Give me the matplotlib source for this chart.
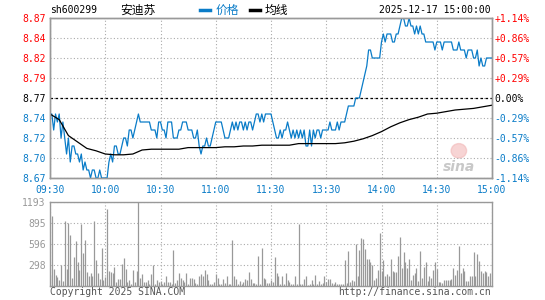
import numpy as np
import matplotlib
matplotlib.use('Agg')
import matplotlib.pyplot as plt
from matplotlib.lines import Line2D
from matplotlib.patches import Ellipse

# intraday data, one value per minute (09:30 .. 11:30 / 13:00 .. 15:00)
price = [
    8.75, 8.75, 8.73, 8.75, 8.74, 8.75, 8.72, 8.74, 8.72, 8.70,
    8.72, 8.69, 8.71, 8.71, 8.70, 8.70, 8.69, 8.70, 8.68, 8.69,
    8.68, 8.68, 8.67, 8.68, 8.68, 8.67, 8.67, 8.68, 8.67, 8.67,
    8.67, 8.67, 8.69, 8.70, 8.69, 8.71, 8.71, 8.70, 8.70, 8.71,
    8.72, 8.72, 8.71, 8.73, 8.73, 8.72, 8.73, 8.74, 8.75, 8.74,
    8.74, 8.74, 8.74, 8.74, 8.74, 8.73, 8.73, 8.73, 8.72, 8.74,
    8.74, 8.73, 8.73, 8.72, 8.74, 8.74, 8.74, 8.72, 8.72, 8.72,
    8.73, 8.73, 8.74, 8.74, 8.74, 8.73, 8.73, 8.73, 8.72, 8.72,
    8.73, 8.71, 8.70, 8.71, 8.71, 8.72, 8.71, 8.71, 8.72, 8.73,
    8.74, 8.74, 8.74, 8.74, 8.73, 8.72, 8.72, 8.72, 8.73, 8.74,
    8.73, 8.74, 8.73, 8.74, 8.74, 8.73, 8.74, 8.73, 8.74, 8.74,
    8.73, 8.74, 8.75, 8.75, 8.74, 8.75, 8.74, 8.75, 8.75, 8.75,
    8.75, 8.74, 8.73, 8.72, 8.72, 8.73, 8.72, 8.73, 8.73, 8.74,
    8.73, 8.72, 8.73, 8.72, 8.73, 8.72, 8.73, 8.72, 8.73, 8.71,
    8.71, 8.73, 8.71, 8.73, 8.72, 8.73, 8.73, 8.72, 8.73, 8.73,
    8.73, 8.73, 8.74, 8.73, 8.73, 8.73, 8.74, 8.73, 8.74, 8.74,
    8.74, 8.75, 8.76, 8.76, 8.76, 8.76, 8.77, 8.77, 8.77, 8.78,
    8.79, 8.80, 8.81, 8.83, 8.83, 8.82, 8.82, 8.82, 8.82, 8.82,
    8.84, 8.85, 8.84, 8.85, 8.85, 8.85, 8.84, 8.84, 8.85, 8.85,
    8.86, 8.87, 8.87, 8.86, 8.86, 8.87, 8.86, 8.86, 8.85, 8.86,
    8.85, 8.86, 8.85, 8.85, 8.84, 8.84, 8.84, 8.84, 8.84, 8.83,
    8.84, 8.84, 8.84, 8.83, 8.84, 8.84, 8.84, 8.84, 8.84, 8.83,
    8.83, 8.83, 8.84, 8.83, 8.83, 8.83, 8.82, 8.83, 8.83, 8.83,
    8.82, 8.82, 8.83, 8.81, 8.82, 8.81, 8.81, 8.82, 8.82, 8.82,
    8.82,
]

volume = [
    150, 1000, 245, 150, 128, 80, 300, 66, 918, 236,
    900, 720, 118, 410, 635, 340, 222, 875, 470, 660,
    200, 137, 185, 142, 930, 365, 185, 100, 540, 80,
    128, 1090, 213, 200, 190, 270, 57, 95, 100, 307,
    400, 236, 57, 80, 33, 222, 57, 213, 1193, 113,
    165, 57, 57, 80, 33, 165, 293, 33, 80, 52,
    71, 33, 57, 137, 52, 52, 33, 505, 43, 80,
    185, 118, 80, 57, 185, 33, 109, 109, 95, 43,
    33, 147, 165, 147, 222, 165, 80, 28, 33, 52,
    165, 118, 33, 33, 104, 47, 137, 24, 33, 660,
    137, 100, 33, 66, 33, 61, 104, 80, 200, 100,
    43, 38, 33, 420, 33, 535, 118, 100, 43, 43,
    80, 57, 407, 185, 147, 33, 137, 24, 180, 80,
    52, 28, 33, 147, 24, 875, 33, 24, 100, 137,
    19, 28, 80, 24, 151, 33, 76, 24, 43, 147,
    57, 104, 104, 47, 33, 52, 33, 24, 24, 24,
    365, 43, 490, 57, 80, 71, 600, 137, 515, 685,
    672, 520, 378, 388, 345, 293, 90, 118, 222, 747,
    208, 365, 147, 175, 147, 378, 213, 203, 200, 420,
    690, 260, 478, 336, 250, 378, 80, 156, 185, 260,
    76, 497, 113, 270, 336, 71, 147, 118, 232, 336,
    246, 57, 57, 47, 80, 80, 80, 80, 100, 260,
    156, 222, 568, 190, 250, 213, 66, 66, 147, 147,
    478, 147, 450, 350, 213, 185, 208, 200, 140, 190,
    0,
]

# average price line, every 5 minutes
avg_minutes = list(range(0, 241, 5))
avg_price = [
    8.750, 8.743, 8.723, 8.715, 8.707, 8.704, 8.700, 8.699, 8.699, 8.700,
    8.705, 8.706, 8.706, 8.706, 8.706, 8.708, 8.708, 8.708, 8.708, 8.709,
    8.709, 8.710, 8.710, 8.711, 8.711, 8.711, 8.711, 8.713, 8.713, 8.713,
    8.713, 8.713, 8.714, 8.716, 8.719, 8.723, 8.728, 8.734, 8.739, 8.743,
    8.746, 8.750, 8.751, 8.753, 8.755, 8.756, 8.757, 8.759, 8.761,
]

prev_close = 8.77
span = 0.10
vol_max = 1193

price_labels = ['8.67', '8.70', '8.72', '8.74', '8.77', '8.79', '8.82', '8.84', '8.87']
pct_labels = ['-1.14%', '-0.86%', '-0.57%', '-0.29%', '0.00%',
              '+0.29%', '+0.57%', '+0.86%', '+1.14%']
time_labels = ['09:30', '10:00', '10:30', '11:00', '11:30',
               '13:30', '14:00', '14:30', '15:00']
vol_labels = ['298', '596', '895', '1193']

BLUE = '#0a7cc8'
RED = '#ff0000'
GRAY = '#999999'
MONO = 'DejaVu Sans Mono'
CJK = ['Noto Sans CJK SC', 'DejaVu Sans Mono']

W, H = 545, 300
def fx(px):
    return px / W
def fy(py):
    return 1 - py / H

fig = plt.figure(figsize=(5.45, 3.0), dpi=100)
ax = fig.add_axes([fx(50), fy(178), 442 / W, 160 / H])
axv = fig.add_axes([fx(50), fy(286), 442 / W, 84 / H])

minutes = np.arange(len(price))
time_pos = np.arange(0, 241, 30)
levels = np.linspace(prev_close - span, prev_close + span, 9)

# price panel
ax.plot(minutes, price, color=BLUE, lw=0.9, zorder=3)
ax.plot(avg_minutes, avg_price, color='black', lw=0.9, zorder=3)
ax.set_xlim(0, 240)
ax.set_ylim(levels[0], levels[-1])
ax.set_xticks(time_pos)
ax.set_xticklabels(time_labels, fontfamily=MONO, fontsize=7, color=BLUE)
ax.set_yticks(levels)
ax.set_yticklabels(price_labels, fontfamily=MONO, fontsize=7)
ax.grid(True, color='#aaaaaa', ls=(0, (1, 2)), lw=0.8)
ax.axhline(prev_close, color='black', ls=(0, (2, 2)), lw=0.9, zorder=2)
ax.tick_params(length=0, pad=3)
ax.tick_params(axis='x', pad=5)

axr = ax.twinx()
axr.set_ylim(levels[0], levels[-1])
axr.set_yticks(levels)
axr.set_yticklabels(pct_labels, fontfamily=MONO, fontsize=7)
axr.tick_params(length=0, pad=2)

for lab_set in (ax.get_yticklabels(), axr.get_yticklabels()):
    for i, t in enumerate(lab_set):
        if i < 4:
            t.set_color(BLUE)
        elif i == 4:
            t.set_color('black')
        else:
            t.set_color(RED)

# volume panel
axv.vlines(minutes, 0, volume, color=GRAY, lw=0.9)
axv.set_xlim(0, 240)
axv.set_ylim(0, vol_max)
axv.set_xticks(time_pos)
axv.set_xticklabels([])
axv.set_yticks([298, 596, 895, 1193])
axv.set_yticklabels(vol_labels, fontfamily=MONO, fontsize=7, color=GRAY)
axv.grid(True, color='#aaaaaa', ls=(0, (1, 2)), lw=0.8)
axv.tick_params(length=0, pad=3)

for a in (ax, axr, axv):
    for s in a.spines.values():
        s.set_color(GRAY)
        s.set_linewidth(1.0)

# sina watermark
ax.add_patch(Ellipse((0.925, 0.17), 0.035, 0.09, transform=ax.transAxes,
                     color='#f2b8b8', alpha=0.6, zorder=1))
ax.text(0.925, 0.07, 'sina', transform=ax.transAxes, fontsize=10,
        fontweight='bold', fontstyle='italic', color='#c8c8c8',
        ha='center', va='center', zorder=1)

# header
fig.text(fx(50), fy(10), 'sh600299', fontfamily=MONO, fontsize=7, va='center')
fig.text(fx(120), fy(10), '安迪苏', family=CJK, fontsize=8.5, va='center')
fig.add_artist(Line2D([fx(200), fx(210)], [fy(10), fy(10)], color=BLUE, lw=2.5))
fig.text(fx(216), fy(10), '价格', family=CJK, fontsize=8.5, va='center', color=BLUE)
fig.add_artist(Line2D([fx(250), fx(260)], [fy(10), fy(10)], color='black', lw=2.5))
fig.text(fx(265), fy(10), '均线', family=CJK, fontsize=8.5, va='center')
fig.text(fx(491), fy(10), '2025-12-17 15:00:00', fontfamily=MONO, fontsize=7,
         va='center', ha='right')

# footer
fig.text(fx(50), fy(292), 'Copyright 2025 SINA.COM', fontfamily=MONO, fontsize=7,
         va='center', color='#555555')
fig.text(fx(491), fy(292), 'http://finance.sina.com.cn', fontfamily=MONO, fontsize=7,
         va='center', ha='right', color='#555555')

fig.savefig('out.png', dpi=100)
